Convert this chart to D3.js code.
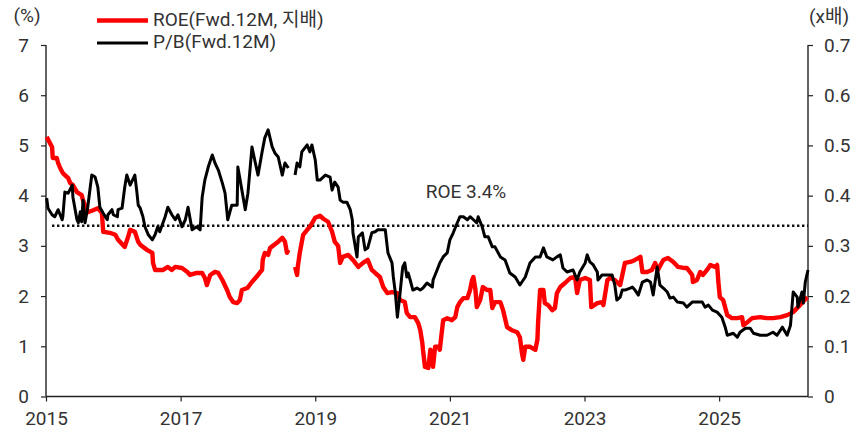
<!DOCTYPE html>
<html>
<head>
<meta charset="utf-8">
<script src="https://cdn.jsdelivr.net/npm/d3@7"></script>
<style>
  html, body { margin: 0; padding: 0; background: #fff; }
  svg text { font-family: Roboto, "Noto Sans CJK KR", sans-serif; fill: #333; }
</style>
</head>
<body>
<svg id="chart" width="857" height="433"></svg>
<script>
// x axis ticks (years)
const yearTicks = [2015, 2017, 2019, 2021, 2023, 2025];
const leftTicks = [0, 1, 2, 3, 4, 5, 6, 7];
const rightTicks = [0, 0.1, 0.2, 0.3, 0.4, 0.5, 0.6, 0.7];
const roeAvg = 3.4;

// ROE (Fwd.12M, 지배), %  -- null marks the data gap
const roeDates = [2015.01, 2015.09, 2015.10, 2015.16, 2015.18, 2015.21, 2015.25, 2015.33, 2015.36, 2015.40,
  2015.46, 2015.53, 2015.55, 2015.62, 2015.70, 2015.77, 2015.83, 2015.85, 2015.95, 2016.03,
  2016.07, 2016.17, 2016.22, 2016.25, 2016.32, 2016.37, 2016.40, 2016.50, 2016.58, 2016.59,
  2016.62, 2016.74, 2016.81, 2016.87, 2016.92, 2017.02, 2017.10, 2017.14, 2017.24, 2017.32,
  2017.36, 2017.39, 2017.44, 2017.51, 2017.56, 2017.62, 2017.69, 2017.73, 2017.78, 2017.84,
  2017.88, 2017.91, 2017.99, 2018.06, 2018.15, 2018.21, 2018.22, 2018.25, 2018.30, 2018.33,
  2018.43, 2018.51, 2018.55, 2018.58, 2018.60, 2018.65, 2018.70, 2018.73, 2018.74, 2018.77,
  2018.82, 2018.88, 2018.92, 2019.00, 2019.07, 2019.12, 2019.19, 2019.25, 2019.29, 2019.34,
  2019.37, 2019.41, 2019.49, 2019.56, 2019.64, 2019.71, 2019.78, 2019.84, 2019.89, 2019.96,
  2020.01, 2020.07, 2020.14, 2020.22, 2020.26, 2020.33, 2020.36, 2020.41, 2020.48, 2020.53,
  2020.56, 2020.59, 2020.60, 2020.63, 2020.68, 2020.71, 2020.74, 2020.75, 2020.78, 2020.83,
  2020.85, 2020.90, 2020.96, 2021.03, 2021.08, 2021.11, 2021.15, 2021.20, 2021.26, 2021.30,
  2021.33, 2021.35, 2021.38, 2021.40, 2021.45, 2021.49, 2021.55, 2021.60, 2021.63, 2021.67,
  2021.75, 2021.79, 2021.85, 2021.92, 2022.00, 2022.04, 2022.07, 2022.09, 2022.12, 2022.19,
  2022.27, 2022.30, 2022.31, 2022.34, 2022.39, 2022.41, 2022.46, 2022.52, 2022.56, 2022.59,
  2022.64, 2022.71, 2022.79, 2022.86, 2022.89, 2022.93, 2023.01, 2023.08, 2023.10, 2023.19,
  2023.26, 2023.28, 2023.34, 2023.38, 2023.45, 2023.53, 2023.60, 2023.68, 2023.75, 2023.83,
  2023.86, 2023.93, 2024.00, 2024.05, 2024.09, 2024.17, 2024.24, 2024.32, 2024.39, 2024.47,
  2024.52, 2024.60, 2024.61, 2024.67, 2024.72, 2024.76, 2024.82, 2024.87, 2024.94, 2024.97,
  2024.99, 2025.01, 2025.06, 2025.12, 2025.19, 2025.27, 2025.34, 2025.36, 2025.42, 2025.49,
  2025.61, 2025.71, 2025.80, 2025.91, 2026.01, 2026.10, 2026.20, 2026.31];
const roeValues = [5.17, 4.97, 4.75, 4.75, 4.65, 4.55, 4.45, 4.35, 4.25, 4.21,
  4.07, 4.01, 3.91, 3.67, 3.71, 3.75, 3.66, 3.28, 3.26, 3.22,
  3.12, 2.98, 3.18, 3.32, 3.28, 3.08, 3.02, 2.92, 2.86, 2.66,
  2.52, 2.52, 2.58, 2.52, 2.58, 2.56, 2.48, 2.42, 2.46, 2.46,
  2.36, 2.22, 2.42, 2.48, 2.46, 2.32, 2.12, 1.98, 1.88, 1.86,
  1.92, 2.12, 2.16, 2.28, 2.42, 2.52, 2.72, 2.86, 2.82, 2.96,
  3.06, 3.16, 3.08, 2.86, 2.92, null, 2.58, 2.42, 2.58, 2.86,
  3.22, 3.32, 3.38, 3.56, 3.60, 3.54, 3.48, 3.28, 3.08, 3.00,
  2.66, 2.78, 2.82, 2.72, 2.58, 2.66, 2.72, 2.52, 2.46, 2.38,
  2.18, 2.06, 2.08, 2.06, 1.92, 1.88, 1.66, 1.58, 1.58, 1.46,
  1.32, 1.07, 0.93, 0.59, 0.57, 0.93, 0.73, 0.59, 0.99, 0.99,
  0.93, 1.52, 1.56, 1.52, 1.58, 1.78, 1.88, 1.96, 1.96, 2.12,
  2.32, 2.38, 2.12, 1.78, 1.92, 2.18, 2.12, 2.12, 1.76, 1.88,
  1.88, 1.72, 1.38, 1.32, 1.28, 1.18, 0.87, 0.73, 0.99, 0.99,
  0.93, 1.13, 1.46, 2.12, 2.12, 1.86, 1.82, 1.72, 1.76, 2.06,
  2.18, 2.26, 2.36, 2.38, 2.06, 2.32, 2.36, 2.32, 1.78, 1.86,
  1.88, 1.82, 2.32, 2.36, 2.32, 2.22, 2.66, 2.68, 2.72, 2.78,
  2.48, 2.48, 2.52, 2.66, 2.52, 2.72, 2.76, 2.68, 2.58, 2.56,
  2.56, 2.42, 2.28, 2.32, 2.48, 2.42, 2.52, 2.62, 2.58, 2.62,
  2.26, 1.98, 1.92, 1.62, 1.56, 1.56, 1.58, 1.42, 1.48, 1.56,
  1.58, 1.56, 1.56, 1.58, 1.62, 1.68, 1.82, 1.98];

// P/B (Fwd.12M), x배
const pbDates = [2015.01, 2015.03, 2015.09, 2015.13, 2015.18, 2015.24, 2015.25, 2015.28, 2015.33, 2015.39,
  2015.40, 2015.46, 2015.48, 2015.51, 2015.53, 2015.55, 2015.58, 2015.62, 2015.68, 2015.73,
  2015.77, 2015.80, 2015.85, 2015.91, 2015.92, 2015.98, 2016.00, 2016.06, 2016.07, 2016.13,
  2016.17, 2016.20, 2016.25, 2016.32, 2016.35, 2016.37, 2016.40, 2016.44, 2016.47, 2016.52,
  2016.58, 2016.62, 2016.66, 2016.69, 2016.77, 2016.81, 2016.87, 2016.92, 2016.96, 2017.02,
  2017.07, 2017.11, 2017.17, 2017.24, 2017.29, 2017.32, 2017.36, 2017.41, 2017.47, 2017.51,
  2017.56, 2017.62, 2017.66, 2017.70, 2017.76, 2017.84, 2017.85, 2017.91, 2017.96, 2018.00,
  2018.06, 2018.11, 2018.15, 2018.21, 2018.25, 2018.30, 2018.36, 2018.40, 2018.45, 2018.51,
  2018.55, 2018.60, 2018.65, 2018.70, 2018.73, 2018.77, 2018.80, 2018.88, 2018.92, 2018.95,
  2019.00, 2019.03, 2019.07, 2019.15, 2019.22, 2019.25, 2019.29, 2019.34, 2019.37, 2019.41,
  2019.47, 2019.52, 2019.55, 2019.56, 2019.62, 2019.64, 2019.70, 2019.74, 2019.78, 2019.84,
  2019.89, 2019.93, 2020.04, 2020.08, 2020.14, 2020.16, 2020.19, 2020.22, 2020.26, 2020.29,
  2020.30, 2020.33, 2020.36, 2020.38, 2020.41, 2020.45, 2020.51, 2020.56, 2020.60, 2020.66,
  2020.74, 2020.75, 2020.81, 2020.85, 2020.90, 2020.96, 2021.00, 2021.05, 2021.11, 2021.15,
  2021.20, 2021.26, 2021.30, 2021.35, 2021.40, 2021.42, 2021.48, 2021.52, 2021.57, 2021.63,
  2021.67, 2021.75, 2021.82, 2021.89, 2021.97, 2022.04, 2022.12, 2022.19, 2022.27, 2022.34,
  2022.39, 2022.44, 2022.53, 2022.59, 2022.64, 2022.68, 2022.74, 2022.83, 2022.89, 2022.93,
  2023.01, 2023.04, 2023.08, 2023.13, 2023.19, 2023.20, 2023.26, 2023.34, 2023.41, 2023.45,
  2023.48, 2023.53, 2023.56, 2023.60, 2023.68, 2023.71, 2023.75, 2023.80, 2023.86, 2023.93,
  2023.98, 2024.02, 2024.08, 2024.12, 2024.17, 2024.23, 2024.27, 2024.32, 2024.38, 2024.47,
  2024.52, 2024.60, 2024.67, 2024.75, 2024.79, 2024.84, 2024.90, 2024.97, 2025.04, 2025.09,
  2025.12, 2025.21, 2025.27, 2025.31, 2025.39, 2025.46, 2025.51, 2025.61, 2025.71, 2025.80,
  2025.86, 2025.94, 2026.01, 2026.06, 2026.10, 2026.16, 2026.17, 2026.23, 2026.25, 2026.28,
  2026.32];
const pbValues = [0.395, 0.375, 0.362, 0.358, 0.372, 0.352, 0.358, 0.407, 0.405, 0.421,
  0.397, 0.352, 0.346, 0.368, 0.348, 0.391, 0.346, 0.377, 0.441, 0.437,
  0.417, 0.377, 0.365, 0.352, 0.362, 0.372, 0.362, 0.358, 0.372, 0.375,
  0.417, 0.441, 0.421, 0.441, 0.407, 0.381, 0.375, 0.358, 0.338, 0.322,
  0.312, 0.322, 0.338, 0.328, 0.358, 0.377, 0.362, 0.352, 0.362, 0.338,
  0.352, 0.377, 0.332, 0.338, 0.332, 0.397, 0.431, 0.457, 0.481, 0.465,
  0.451, 0.425, 0.405, 0.352, 0.381, 0.381, 0.457, 0.411, 0.372, 0.405,
  0.497, 0.465, 0.441, 0.487, 0.515, 0.531, 0.497, 0.485, 0.477, 0.441,
  0.465, 0.455, null, 0.441, 0.465, 0.457, 0.487, 0.501, 0.487, 0.501,
  0.471, 0.431, 0.431, 0.441, 0.437, 0.411, 0.427, 0.417, 0.391, 0.387,
  0.387, 0.372, 0.352, 0.326, 0.278, 0.318, 0.326, 0.292, 0.296, 0.326,
  0.328, 0.332, 0.332, 0.286, 0.266, 0.238, 0.206, 0.158, 0.206, 0.246,
  0.258, 0.266, 0.238, 0.246, 0.232, 0.212, 0.216, 0.212, 0.216, 0.226,
  0.218, 0.232, 0.252, 0.266, 0.278, 0.286, 0.312, 0.326, 0.346, 0.358,
  0.358, 0.352, 0.358, 0.352, 0.346, 0.358, 0.338, 0.318, 0.318, 0.298,
  0.298, 0.278, 0.272, 0.246, 0.238, 0.222, 0.238, 0.266, 0.278, 0.278,
  0.296, 0.278, 0.272, 0.278, 0.282, 0.256, 0.248, 0.252, 0.232, 0.248,
  0.266, 0.282, 0.268, 0.262, 0.248, 0.232, 0.242, 0.242, 0.242, 0.222,
  0.192, 0.198, 0.212, 0.212, 0.216, 0.218, 0.212, 0.202, 0.228, 0.232,
  0.228, 0.202, 0.258, 0.222, 0.216, 0.208, 0.196, 0.198, 0.188, 0.186,
  0.178, 0.188, 0.188, 0.188, 0.178, 0.182, 0.172, 0.168, 0.158, 0.138,
  0.122, 0.126, 0.118, 0.128, 0.136, 0.136, 0.126, 0.122, 0.122, 0.128,
  0.122, 0.138, 0.122, 0.142, 0.208, 0.198, 0.178, 0.208, 0.186, 0.228,
  0.252];

const svg = d3.select('#chart');
const plotLeft = 46, plotRight = 808, plotTop = 45, plotBottom = 396.5;

const x = d3.scaleLinear().domain([2015, 2026.32]).range([plotLeft, plotRight]);
const yL = d3.scaleLinear().domain([0, 7]).range([plotBottom, plotTop]);
const yR = d3.scaleLinear().domain([0, 0.7]).range([plotBottom, plotTop]);

const fontSize = '19px';

// axes
const xAxis = svg.append('g')
  .attr('transform', 'translate(0,' + plotBottom + ')')
  .call(d3.axisBottom(x).tickValues(yearTicks).tickFormat(d3.format('d')).tickSize(5).tickPadding(10));
const lAxis = svg.append('g')
  .attr('transform', 'translate(' + plotLeft + ',0)')
  .call(d3.axisLeft(yL).tickValues(leftTicks).tickFormat(d3.format('d')).tickSize(5).tickPadding(12));
const rAxis = svg.append('g')
  .attr('transform', 'translate(' + plotRight + ',0)')
  .call(d3.axisRight(yR).tickValues(rightTicks).tickFormat(d => d === 0 ? '0' : d3.format('.1f')(d)).tickSize(5).tickPadding(11));

[xAxis, lAxis, rAxis].forEach(g => {
  g.select('.domain').attr('stroke', '#222').attr('stroke-width', 1.4);
  g.selectAll('.tick line').attr('stroke', '#222').attr('stroke-width', 1.2);
  g.selectAll('.tick text').style('font-size', fontSize).attr('font-family', null).attr('fill', '#333');
});
// plain domain lines, no end stubs
lAxis.select('.domain').attr('d', 'M0,' + plotTop + 'V' + plotBottom);
rAxis.select('.domain').attr('d', 'M0,' + plotTop + 'V' + plotBottom);
xAxis.select('.domain').attr('d', 'M' + plotLeft + ',0H' + plotRight);

// average ROE dotted line
svg.append('line')
  .attr('x1', plotLeft + 6).attr('x2', plotRight)
  .attr('y1', yL(roeAvg)).attr('y2', yL(roeAvg))
  .attr('stroke', '#111').attr('stroke-width', 2.6)
  .attr('stroke-dasharray', '2.4,2.6');

svg.append('text')
  .attr('x', 466).attr('y', yL(roeAvg) - 33)
  .attr('text-anchor', 'middle').attr('dominant-baseline', 'middle')
  .style('font-size', fontSize)
  .text('ROE ' + roeAvg + '%');

// series
const roe = roeDates.map((d, i) => ({t: d, v: roeValues[i]}));
const pb = pbDates.map((d, i) => ({t: d, v: pbValues[i]}));

const roeLine = d3.line().defined(d => d.v !== null).x(d => x(d.t)).y(d => yL(d.v));
const pbLine = d3.line().defined(d => d.v !== null).x(d => x(d.t)).y(d => yR(d.v));

svg.append('path').datum(roe)
  .attr('d', roeLine)
  .attr('fill', 'none').attr('stroke', '#ff0000').attr('stroke-width', 4.4)
  .attr('stroke-linejoin', 'round');

svg.append('path').datum(pb)
  .attr('d', pbLine)
  .attr('fill', 'none').attr('stroke', '#000').attr('stroke-width', 3)
  .attr('stroke-linejoin', 'round');

// unit labels
svg.append('text').attr('x', 27).attr('y', 17)
  .attr('text-anchor', 'middle').attr('dominant-baseline', 'middle')
  .style('font-size', fontSize).text('(%)');
svg.append('text').attr('x', 829).attr('y', 18)
  .attr('text-anchor', 'middle').attr('dominant-baseline', 'middle')
  .style('font-size', fontSize).text('(x배)');

// legend
const legend = [
  {label: 'ROE(Fwd.12M, 지배)', color: '#ff0000', width: 4.4, y: 20.5},
  {label: 'P/B(Fwd.12M)', color: '#000', width: 3, y: 43}
];
const lg = svg.append('g');
legend.forEach(d => {
  lg.append('line').attr('x1', 97).attr('x2', 148).attr('y1', d.y).attr('y2', d.y)
    .attr('stroke', d.color).attr('stroke-width', d.width);
  lg.append('text').attr('x', 153).attr('y', d.y)
    .attr('dominant-baseline', 'middle').style('font-size', fontSize).text(d.label);
});
</script>
</body>
</html>
